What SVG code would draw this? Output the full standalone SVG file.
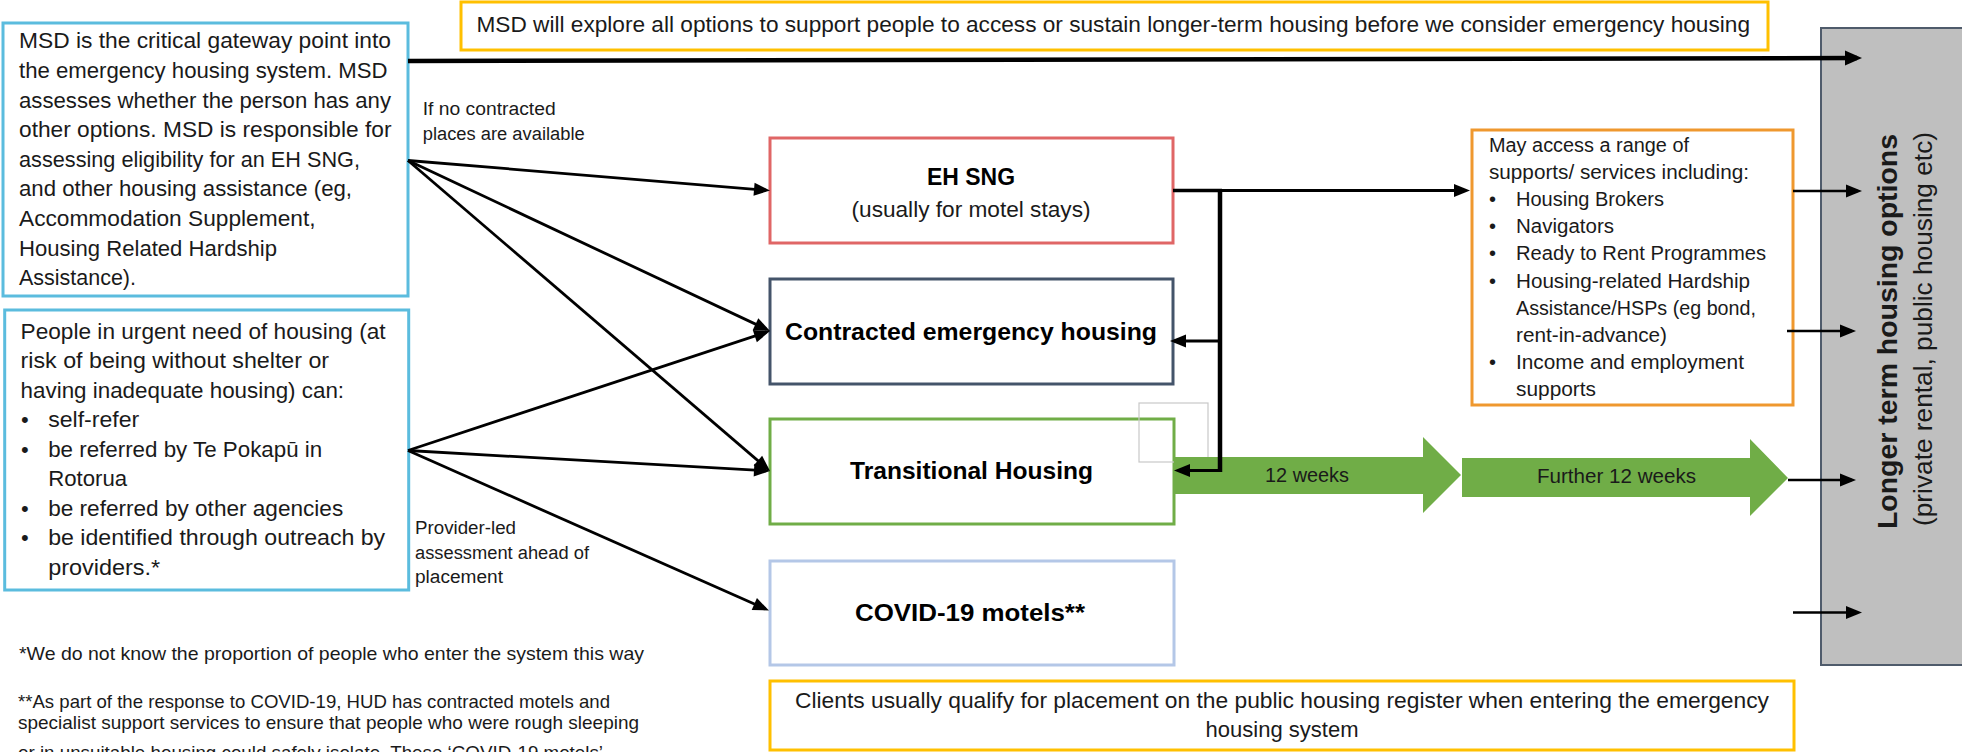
<svg xmlns="http://www.w3.org/2000/svg" width="1962" height="752" viewBox="0 0 1962 752">
  <style>
    text { font-family: "Liberation Sans", Arial, sans-serif; fill: #1a1a1a; }
    .body { font-size: 22px; }
    .small { font-size: 18px; }
    .supp { font-size: 20px; }
    .foot { font-size: 19px; }
    .title { font-size: 24px; font-weight: bold; fill: #000; }
    .box { fill: #fff; stroke-width: 3; }
    .entry { stroke: #5bbcde; }
    .note { stroke: #ffc000; }
    .link { fill: none; stroke: #000; stroke-width: 2.8; marker-end: url(#head); }
    .feed { fill: none; stroke: #000; stroke-width: 2.6; marker-end: url(#head); }
    .green { fill: #70ad47; }
  </style>
  <defs>
    <marker id="head" markerUnits="userSpaceOnUse" markerWidth="16" markerHeight="13" refX="12" refY="6.5" orient="auto" overflow="visible">
      <path d="M0,0 L16,6.5 L0,13 z" fill="#000"/>
    </marker>
    <marker id="bighead" markerUnits="userSpaceOnUse" markerWidth="17" markerHeight="15" refX="12" refY="7.5" orient="auto" overflow="visible">
      <path d="M0,0 L17,7.5 L0,15 z" fill="#000"/>
    </marker>
  </defs>

  <!-- entry point: MSD -->
  <g id="msd">
    <rect class="box entry" x="3" y="23" width="405" height="273"/>
    <text class="body" x="19" y="48.3" textLength="372" lengthAdjust="spacingAndGlyphs">MSD is the critical gateway point into</text>
    <text class="body" x="19" y="77.9" textLength="368.5" lengthAdjust="spacingAndGlyphs">the emergency housing system. MSD</text>
    <text class="body" x="19" y="107.5" textLength="372" lengthAdjust="spacingAndGlyphs">assesses whether the person has any</text>
    <text class="body" x="19" y="137.1" textLength="372.5" lengthAdjust="spacingAndGlyphs">other options. MSD is responsible for</text>
    <text class="body" x="19" y="166.7" textLength="341" lengthAdjust="spacingAndGlyphs">assessing eligibility for an EH SNG,</text>
    <text class="body" x="19" y="196.3" textLength="333" lengthAdjust="spacingAndGlyphs">and other housing assistance (eg,</text>
    <text class="body" x="19" y="225.9" textLength="296.5" lengthAdjust="spacingAndGlyphs">Accommodation Supplement,</text>
    <text class="body" x="19" y="255.5" textLength="258" lengthAdjust="spacingAndGlyphs">Housing Related Hardship</text>
    <text class="body" x="19" y="285.1" textLength="117" lengthAdjust="spacingAndGlyphs">Assistance).</text>
  </g>

  <!-- entry point: people in need -->
  <g id="people">
    <rect class="box entry" x="4.7" y="310" width="404" height="280"/>
    <text class="body" x="20.6" y="338.5" textLength="365" lengthAdjust="spacingAndGlyphs">People in urgent need of housing (at</text>
    <text class="body" x="20.6" y="368" textLength="308.5" lengthAdjust="spacingAndGlyphs">risk of being without shelter or</text>
    <text class="body" x="20.6" y="397.5" textLength="323.5" lengthAdjust="spacingAndGlyphs">having inadequate housing) can:</text>
    <text class="body" x="21" y="427">•</text>
    <text class="body" x="48.2" y="427" textLength="91" lengthAdjust="spacingAndGlyphs">self-refer</text>
    <text class="body" x="21" y="456.5">•</text>
    <text class="body" x="48.2" y="456.5" textLength="274" lengthAdjust="spacingAndGlyphs">be referred by Te Pokapū in</text>
    <text class="body" x="48.2" y="486" textLength="79" lengthAdjust="spacingAndGlyphs">Rotorua</text>
    <text class="body" x="21" y="515.5">•</text>
    <text class="body" x="48.2" y="515.5" textLength="295" lengthAdjust="spacingAndGlyphs">be referred by other agencies</text>
    <text class="body" x="21" y="545">•</text>
    <text class="body" x="48.2" y="545" textLength="337" lengthAdjust="spacingAndGlyphs">be identified through outreach by</text>
    <text class="body" x="48.2" y="574.5" textLength="112" lengthAdjust="spacingAndGlyphs">providers.*</text>
  </g>

  <!-- policy note along the top -->
  <g id="explore-note">
    <rect class="box note" x="461" y="2" width="1307" height="48"/>
    <text class="body" x="476.5" y="32" textLength="1273.5" lengthAdjust="spacingAndGlyphs">MSD will explore all options to support people to access or sustain longer-term housing before we consider emergency housing</text>
  </g>

  <!-- emergency housing options -->
  <g id="eh-sng">
    <rect class="box" x="770" y="138" width="403" height="105" stroke="#e06666"/>
    <text class="title" x="971" y="185" text-anchor="middle" font-size="23" textLength="88" lengthAdjust="spacingAndGlyphs">EH SNG</text>
    <text class="body" x="971" y="217" text-anchor="middle" textLength="239" lengthAdjust="spacingAndGlyphs">(usually for motel stays)</text>
  </g>
  <g id="contracted">
    <rect class="box" x="770" y="279" width="403" height="105" stroke="#44546a"/>
    <text class="title" x="785" y="340" textLength="372" lengthAdjust="spacingAndGlyphs">Contracted emergency housing</text>
  </g>
  <g id="transitional">
    <rect class="box" x="770" y="419" width="404" height="105" stroke="#70ad47"/>
    <text class="title" x="850" y="479" textLength="243" lengthAdjust="spacingAndGlyphs">Transitional Housing</text>
  </g>
  <g id="covid-motels">
    <rect class="box" x="770" y="561" width="404" height="104" stroke="#b4c7e7"/>
    <text class="title" x="855" y="620.5" textLength="230" lengthAdjust="spacingAndGlyphs">COVID-19 motels**</text>
  </g>

  <!-- leftover empty frame -->
  <rect x="1139" y="403" width="69" height="59" fill="none" stroke="#c8c8c8" stroke-width="1.2"/>

  <!-- supports available -->
  <g id="supports">
    <rect class="box" x="1472" y="130" width="321" height="275" stroke="#ef982e"/>
    <text class="supp" x="1489" y="151.5" textLength="200" lengthAdjust="spacingAndGlyphs">May access a range of</text>
    <text class="supp" x="1489" y="178.7" textLength="260" lengthAdjust="spacingAndGlyphs">supports/ services including:</text>
    <text class="supp" x="1489" y="205.9">•</text>
    <text class="supp" x="1516" y="205.9" textLength="148" lengthAdjust="spacingAndGlyphs">Housing Brokers</text>
    <text class="supp" x="1489" y="233.1">•</text>
    <text class="supp" x="1516" y="233.1" textLength="98" lengthAdjust="spacingAndGlyphs">Navigators</text>
    <text class="supp" x="1489" y="260.3">•</text>
    <text class="supp" x="1516" y="260.3" textLength="250" lengthAdjust="spacingAndGlyphs">Ready to Rent Programmes</text>
    <text class="supp" x="1489" y="287.5">•</text>
    <text class="supp" x="1516" y="287.5" textLength="234" lengthAdjust="spacingAndGlyphs">Housing-related Hardship</text>
    <text class="supp" x="1516" y="314.7" textLength="240" lengthAdjust="spacingAndGlyphs">Assistance/HSPs (eg bond,</text>
    <text class="supp" x="1516" y="341.9" textLength="151" lengthAdjust="spacingAndGlyphs">rent-in-advance)</text>
    <text class="supp" x="1489" y="369.1">•</text>
    <text class="supp" x="1516" y="369.1" textLength="228" lengthAdjust="spacingAndGlyphs">Income and employment</text>
    <text class="supp" x="1516" y="396.3" textLength="80" lengthAdjust="spacingAndGlyphs">supports</text>
  </g>

  <!-- time-limited stays in transitional housing -->
  <g id="weeks-12">
    <polygon class="green" points="1174,457 1423,457 1423,437 1461,475 1423,513 1423,494 1174,494"/>
    <text class="supp" x="1265" y="482" textLength="84" lengthAdjust="spacingAndGlyphs">12 weeks</text>
  </g>
  <g id="weeks-further">
    <polygon class="green" points="1462,458 1750,458 1750,439 1788,478 1750,516 1750,497 1462,497"/>
    <text class="supp" x="1537" y="483" textLength="159" lengthAdjust="spacingAndGlyphs">Further 12 weeks</text>
  </g>

  <!-- destination -->
  <g id="longer-term">
    <rect x="1821" y="28" width="160" height="637" fill="#bfbfbf" stroke="#4f5b6b" stroke-width="2"/>
    <text transform="translate(1897,331.5) rotate(-90)" text-anchor="middle" font-size="28" font-weight="bold" fill="#000" textLength="395" lengthAdjust="spacingAndGlyphs">Longer term housing options</text>
    <text transform="translate(1932,329) rotate(-90)" text-anchor="middle" font-size="25.5" textLength="394" lengthAdjust="spacingAndGlyphs">(private rental, public housing etc)</text>
  </g>

  <!-- register note along the bottom -->
  <g id="register-note">
    <rect class="box note" x="770" y="681" width="1024" height="69"/>
    <text class="body" x="1282" y="708" text-anchor="middle" textLength="974" lengthAdjust="spacingAndGlyphs">Clients usually qualify for placement on the public housing register when entering the emergency</text>
    <text class="body" x="1282" y="737" text-anchor="middle" textLength="153" lengthAdjust="spacingAndGlyphs">housing system</text>
  </g>

  <!-- footnotes -->
  <g id="footnotes">
    <text class="foot" x="19" y="660" textLength="625" lengthAdjust="spacingAndGlyphs">*We do not know the proportion of people who enter the system this way</text>
    <text class="foot" x="18" y="708" textLength="592" lengthAdjust="spacingAndGlyphs">**As part of the response to COVID-19, HUD has contracted motels and</text>
    <text class="foot" x="18" y="729" textLength="621" lengthAdjust="spacingAndGlyphs">specialist support services to ensure that people who were rough sleeping</text>
    <text class="foot" x="18" y="759" textLength="585" lengthAdjust="spacingAndGlyphs">or in unsuitable housing could safely isolate. These ‘COVID-19 motels’</text>
  </g>

  <!-- connectors -->
  <g id="connectors">
    <line x1="408" y1="61" x2="1857" y2="58" fill="none" stroke="#000" stroke-width="4.5" marker-end="url(#bighead)"/>

    <line class="link" x1="408" y1="160.5" x2="766" y2="190.2"/>
    <line class="link" x1="408" y1="160.5" x2="766.4" y2="329.3"/>
    <line class="link" x1="408" y1="160.5" x2="767" y2="468.4"/>
    <line class="link" x1="408" y1="450.5" x2="766.2" y2="332.3"/>
    <line class="link" x1="408" y1="450.5" x2="766" y2="470.8"/>
    <line class="link" x1="408" y1="450.5" x2="765.3" y2="608.9"/>

    <line x1="1173" y1="190.5" x2="1222" y2="190.5" stroke="#000" stroke-width="3.5"/>
    <line class="link" x1="1222" y1="190.5" x2="1466" y2="190.5" stroke-width="3.2"/>
    <line x1="1220" y1="189" x2="1220" y2="472" stroke="#000" stroke-width="4.5"/>
    <line class="link" x1="1220" y1="341" x2="1174" y2="341" stroke-width="3.2"/>
    <line class="link" x1="1222" y1="470.5" x2="1178" y2="470.5" stroke-width="3.5"/>

    <line class="feed" x1="1793" y1="191" x2="1858" y2="191"/>
    <line class="feed" x1="1787" y1="331" x2="1852" y2="331"/>
    <line class="feed" x1="1788" y1="480" x2="1852" y2="480"/>
    <line class="feed" x1="1793" y1="612.5" x2="1858" y2="612.5"/>

    <!-- connector labels -->
    <text class="small" x="422.7" y="114.8" textLength="133" lengthAdjust="spacingAndGlyphs">If no contracted</text>
    <text class="small" x="422.7" y="139.5" textLength="162" lengthAdjust="spacingAndGlyphs">places are available</text>
    <text class="small" x="415" y="533.5" textLength="101" lengthAdjust="spacingAndGlyphs">Provider-led</text>
    <text class="small" x="415" y="558.5" textLength="174" lengthAdjust="spacingAndGlyphs">assessment ahead of</text>
    <text class="small" x="415" y="583" textLength="88" lengthAdjust="spacingAndGlyphs">placement</text>
  </g>
</svg>
